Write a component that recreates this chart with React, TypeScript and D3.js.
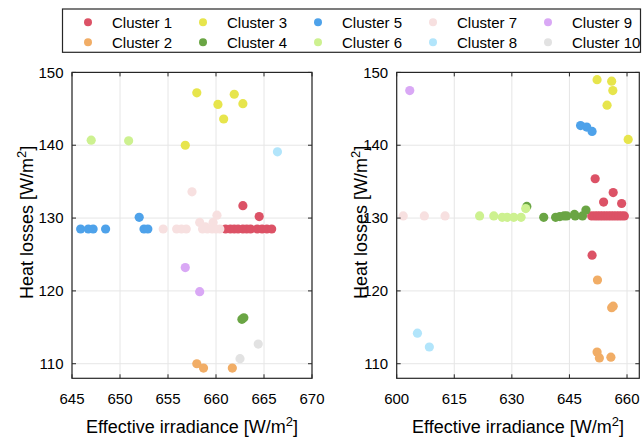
import React from "react";
import * as d3 from "d3";

const clusterNames = ["Cluster 1","Cluster 2","Cluster 3","Cluster 4","Cluster 5","Cluster 6","Cluster 7","Cluster 8","Cluster 9","Cluster 10"];
const clusterColors = ["#dc5266","#f1ad66","#e7e54c","#6aa544","#4ea2ea","#cdf190","#f7e0e0","#b2e5fb","#d9a8f5","#e2e2e2"];

// Left panel: [effective irradiance, heat losses]
const left1 = [[661.0,128.5],[661.5,128.5],[661.9,128.5],[662.3,128.5],[662.8,128.5],[663.2,128.5],[663.6,128.5],[664.3,128.5],[664.8,128.5],[665.3,128.5],[665.8,128.5],[662.8,131.7],[664.5,130.2]];
const left2 = [[658.0,110.0],[658.7,109.4],[661.7,109.4]];
const left3 = [[656.8,140.0],[658.0,147.2],[660.2,145.6],[660.8,143.6],[661.9,147.0],[662.8,145.7]];
const left4 = [[662.7,116.1],[662.9,116.3]];
const left5 = [[645.9,128.5],[646.7,128.5],[647.2,128.5],[648.5,128.5],[652.0,130.1],[652.5,128.5],[652.9,128.5]];
const left6 = [[647.0,140.7],[650.9,140.6]];
const left7 = [[654.5,128.5],[655.9,128.5],[656.4,128.5],[656.9,128.5],[657.5,133.6],[658.3,129.4],[658.6,128.5],[658.9,128.8],[659.1,128.5],[659.6,128.5],[659.7,129.4],[660.0,128.5],[660.1,130.4],[660.4,128.5]];
const left8 = [[666.4,139.1]];
const left9 = [[656.8,123.2],[658.3,119.9]];
const left10 = [[664.4,112.7],[662.5,110.7]];

// Right panel
const right1 = [[651.7,135.4],[656.4,133.5],[653.9,132.2],[658.6,132.0],[650.9,124.9],[650.8,130.3],[651.6,130.3],[652.3,130.3],[653.0,130.3],[653.7,130.3],[654.4,130.3],[655.1,130.3],[655.8,130.3],[656.5,130.3],[657.2,130.3],[657.9,130.3],[658.6,130.3],[659.3,130.3]];
const right2 = [[652.3,121.5],[656.0,117.7],[656.4,117.9],[652.2,111.6],[652.8,110.8],[655.8,110.9]];
const right3 = [[652.2,149.0],[656.0,148.8],[656.3,147.5],[654.8,145.5],[660.3,140.8]];
const right4 = [[633.9,131.6],[638.3,130.1],[641.4,130.1],[642.5,130.2],[643.6,130.3],[644.3,130.3],[646.3,130.5],[646.5,130.3],[648.4,130.3],[649.3,131.1]];
const right5 = [[647.9,142.7],[649.5,142.5],[650.9,141.9]];
const right6 = [[621.6,130.3],[625.3,130.3],[627.5,130.1],[628.8,130.1],[630.5,130.1],[632.4,130.1],[633.6,131.3]];
const right7 = [[601.7,130.3],[607.2,130.3],[612.6,130.3]];
const right8 = [[605.4,114.2],[608.5,112.3]];
const right9 = [[603.4,147.5]];
const right10: number[][] = [];

const leftXTicks = [645,650,655,660,665,670];
const rightXTicks = [600,615,630,645,660];
const yTicks = [110,120,130,140,150];

const xLabel = "Effective irradiance [W/m";
const yLabel = "Heat losses [W/m";

const FONT = "'Liberation Sans', Arial, Helvetica, sans-serif";
const AX = "#262626";
const GRID = "#e6e6e6";

type PanelProps = {
  x0: number; x1: number; xDom: [number, number]; xTicks: number[];
  series: number[][][]; yLabelX: number;
};

const Y0 = 72.4, Y1 = 378.3;

function Panel({ x0, x1, xDom, xTicks, series, yLabelX }: PanelProps) {
  const x = d3.scaleLinear().domain(xDom).range([x0, x1]);
  const y = d3.scaleLinear().domain([108, 150]).range([Y1, Y0]);
  const tl = 4;
  const cx = (x0 + x1) / 2;
  const cy = (Y0 + Y1) / 2 - 3;
  return (
    <g>
      {xTicks.map(t => (
        <line key={"gx" + t} x1={x(t)} x2={x(t)} y1={Y0} y2={Y1} stroke={GRID} strokeWidth={1} />
      ))}
      {yTicks.map(t => (
        <line key={"gy" + t} x1={x0} x2={x1} y1={y(t)} y2={y(t)} stroke={GRID} strokeWidth={1} />
      ))}
      {series.map((pts, ci) =>
        pts.map((p, i) => (
          <circle key={ci + "-" + i} cx={x(p[0])} cy={y(p[1])} r={4.6} fill={clusterColors[ci]} />
        ))
      )}
      <rect x={x0} y={Y0} width={x1 - x0} height={Y1 - Y0} fill="none" stroke={AX} strokeWidth={1.2} />
      {xTicks.map(t => (
        <g key={"tx" + t}>
          <line x1={x(t)} x2={x(t)} y1={Y1} y2={Y1 - tl} stroke={AX} />
          <line x1={x(t)} x2={x(t)} y1={Y0} y2={Y0 + tl} stroke={AX} />
          <text x={x(t)} y={403.5} textAnchor="middle" fontSize={15} fontFamily={FONT} fill="#000">{t}</text>
        </g>
      ))}
      {yTicks.map(t => (
        <g key={"ty" + t}>
          <line x1={x0} x2={x0 + tl} y1={y(t)} y2={y(t)} stroke={AX} />
          <line x1={x1} x2={x1 - tl} y1={y(t)} y2={y(t)} stroke={AX} />
          <text x={x0 - 8.5} y={y(t) + 5.2} textAnchor="end" fontSize={15} fontFamily={FONT} fill="#000">{t}</text>
        </g>
      ))}
      <text x={cx} y={432.7} textAnchor="middle" fontSize={18} fontFamily={FONT} fill="#000">
        {xLabel}<tspan dy={-7} fontSize={13}>2</tspan><tspan dy={7}>]</tspan>
      </text>
      <text transform={`translate(${yLabelX},${cy}) rotate(-90)`} textAnchor="middle" fontSize={18} fontFamily={FONT} fill="#000">
        {yLabel}<tspan dy={-7} fontSize={13}>2</tspan><tspan dy={7}>]</tspan>
      </text>
    </g>
  );
}

export default function App() {
  const leftSeries = [left1,left2,left3,left4,left5,left6,left7,left8,left9,left10];
  const rightSeries = [right1,right2,right3,right4,right5,right6,right7,right8,right9,right10];
  const colX = [88, 203, 318, 433, 548];
  const rowY = [22.3, 42.3];
  return (
    <svg width={643} height={438} style={{ position: "absolute", left: 0, top: 0, background: "#fff" }}>
      <rect x={0} y={0} width={643} height={438} fill="#fff" />
      <Panel x0={72} x1={312} xDom={[645, 670]} xTicks={leftXTicks} series={leftSeries} yLabelX={33} />
      <Panel x0={396.7} x1={639.3} xDom={[600, 663.2]} xTicks={rightXTicks} series={rightSeries} yLabelX={366.5} />
      <rect x={62.5} y={9} width={578} height={43.3} fill="#fff" stroke={AX} strokeWidth={1.2} />
      {clusterNames.map((name, i) => {
        const col = Math.floor(i / 2), row = i % 2;
        return (
          <g key={name}>
            <circle cx={colX[col]} cy={rowY[row]} r={4} fill={clusterColors[i]} />
            <text x={colX[col] + 24} y={rowY[row] + 5.3} fontSize={15} fontFamily={FONT} fill="#000">{name}</text>
          </g>
        );
      })}
    </svg>
  );
}
